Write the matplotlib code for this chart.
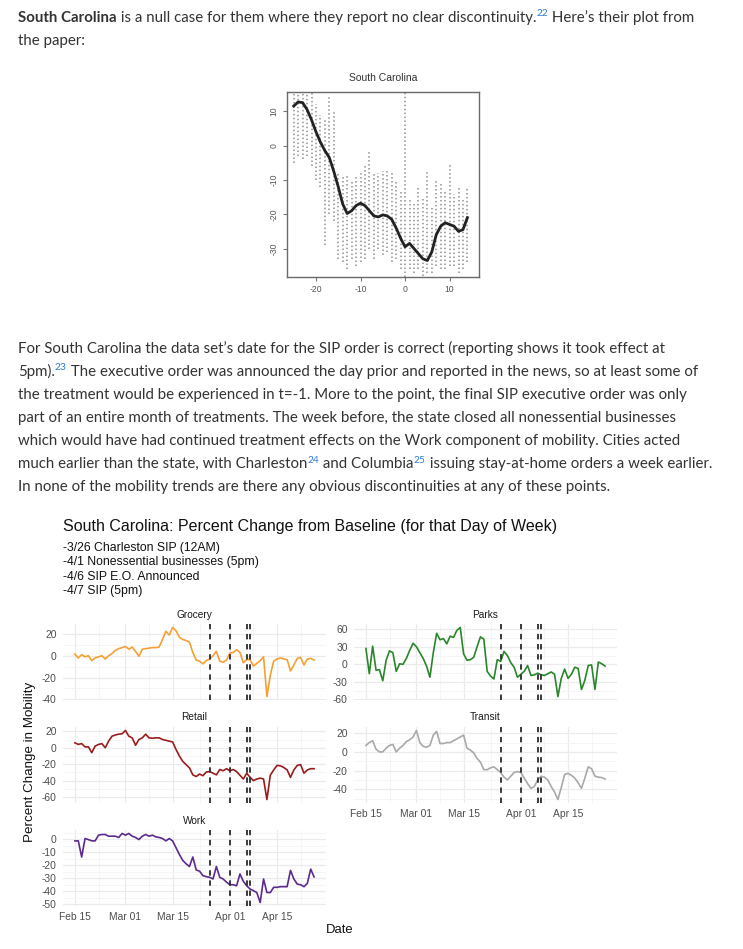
import matplotlib
matplotlib.use("Agg")
import matplotlib.pyplot as plt
import numpy as np

W, H = 743, 949

# ---- the paper's event-study scatter (days relative to SIP) ----
sc_days = list(range(-25, 15))
sc_fit = [11.5, 12.7, 12.5, 10.5, 7.5, 4.0, 1.0, -1.5, -3.5, -7.5,
          -12, -17, -19.8, -19, -17.5, -16.8, -17.5, -19, -20.5, -20.8,
          -20.2, -20.5, -21.5, -24, -27, -29.5, -28.5, -30, -31.5, -33,
          -33.5, -31, -26, -23.5, -22.5, -23, -23.5, -25, -24.5, -21]
sc_hi = [15.9, 15.9, 15.9, 15.9, 15.9, 12, 9, 8, 14, 10,
         -8, -9, -9, -10, -9, -8, -6, -2, -8, -8,
         -7.5, -7.5, -8, -10, -13, 15.9, -16, -17, -12, -15,
         -7, -18, -10, -11, -13, -5, -14, -12, -16, -12]
sc_lo = [-5, -3, -4, -3, -6, -10, -12, -29, -20, -22,
         -33, -34, -36, -33, -35, -34, -33, -30, -33, -30,
         -32, -31, -34, -33, -36, -38.3, -36, -37, -36, -38,
         -37, -37, -35, -36, -36, -35, -35, -37, -36, -34]

# ---- Google mobility, South Carolina, Feb 15 - Apr 26 2020 ----
dates = np.arange(np.datetime64("2020-02-15"), np.datetime64("2020-04-27"))
grocery = [1.5, -2, 1, -1, 0, -4.5, -2, -1, 0, -3,
           0, 2, 5, 6.5, 7.5, 8.5, 6, 8, 4, -0.5,
           6, 6.5, 7, 7.5, 7.5, 8, 15, 22.5, 19, 26,
           23, 17, 15, 14, 12.5, 3, -4, -5, -7.5, -4.5,
           -3, 0, 4, -5, -6, -4, 2.5, 3, 5.5, 3,
           -6.5, -3.5, -3.5, -9.5, -7, -4.5, -1, -37.5, -18, -5,
           -3, -2, -3, -3.5, -14, -8.5, -2.5, -1.5, -8.5, -3,
           -2.5, -4]
parks = [27, -16, 31, -10, -9, -28, 7, 23, 20, -12,
         1, 0, 10, 24, 36, 30, 20, 10, -3, -22,
         20, 53, 42, 44, 35, 48, 46, 58, 63, 18,
         7, 8, 12, 30, 47, 43, -12, -20, -25, 8,
         5, 22, 15, 3, -5, -22, -17, -12, -2, -19,
         -18, -15, -18, -19, -16, -13, -17, -55, -24, -8,
         -24, -17, -5, -7, -43, -27, -2, -1, -43, 4,
         1, -3]
retail = [6, 4, 5, 1, 1, -6, 2, 4, 5, 0,
          8, 14, 15.5, 16.5, 17, 21, 14, 12, 3, 10,
          12, 16.5, 12, 11.5, 12, 12, 10, 9, 8, 7,
          -2, -10, -16.5, -20.5, -24.5, -33, -35, -32, -34, -29.5,
          -29, -31, -33, -26.5, -28, -25.5, -28, -26.5, -29, -33.5,
          -38, -31, -36, -40, -38, -37, -38, -63, -33.5, -27,
          -21.5, -22, -24, -27, -36, -27, -21.5, -20.5, -31, -27,
          -25.5, -25.5]
transit = [7, 10, 12, 3, 0, 0, 4, 7, 8, 0,
           4, 7, 11, 13, 16, 23, 10, 6, 5, 7,
           18, 22, 9, 9, 10, 10, 12, 14, 16, 18,
           4, 2, -1, -7, -11, -19, -19, -17, -16, -19,
           -22, -27, -30, -26, -22, -21, -22, -28, -34, -39,
           -37, -30, -26, -27, -30, -37, -43, -51, -38, -24,
           -23, -25, -28, -33, -39, -28, -16, -18, -26, -27,
           -27.5, -29]
work = [-1.3, -1.3, -13.7, 0.5, -0.3, -1.3, -1.3, 3.1, 3.6, 3.6,
        2.3, 2.3, 2.3, 1.3, 4.4, 3.1, 4.4, 2.3, 1.3, -0.3,
        2.3, 3.6, 2.3, 3.1, 1.8, 1.3, 0.5, -1.3, 0.5, -1.3,
        -6.5, -11.7, -16.3, -18.9, -21, -13.7, -23.6, -24.6, -28, -28.8,
        -29.3, -30.6, -21, -29.3, -30.6, -33, -35, -35, -35.8, -26.7,
        -32.4, -35.8, -38.3, -39.6, -41, -48.7, -30.6, -41, -41, -37,
        -37, -36.5, -36.5, -36.5, -24, -30.6, -34.5, -35, -36.5, -34,
        -23, -29]
events = ["2020-03-26", "2020-04-01", "2020-04-06", "2020-04-07"]
xbreaks = ["2020-02-15", "2020-03-01", "2020-03-15", "2020-04-01", "2020-04-15"]
xlabels = ["Feb 15", "Mar 01", "Mar 15", "Apr 01", "Apr 15"]

fig = plt.figure(figsize=(W / 100, H / 100), dpi=100)
fig.patch.set_facecolor("white")
r = fig.canvas.get_renderer()


def box(x0, y0, x1, y1):
    return [x0 / W, 1 - y1 / H, (x1 - x0) / W, (y1 - y0) / H]


# ---------------- page text ----------------
BODY = ["Lato", "DejaVu Sans"]
INK = "#333333"
LINK = "#2f7fd4"
SIZE = 10.6


def adv(txt, **kw):
    a = fig.text(0, 0, "|" + txt + "|", **kw)
    b = fig.text(0, 0, "||", **kw)
    w = a.get_window_extent(r).width - b.get_window_extent(r).width
    a.remove(); b.remove()
    return w


def styles(kind, size):
    if kind == "sup":
        return dict(fontsize=size * 0.68, color=LINK, family=BODY)
    return dict(fontsize=size, color=INK, family=BODY,
                weight="bold" if kind == "b" else "normal")


def write(x, y, parts, right):
    # nudge the size toward where the line ends on the page (page font not installed)
    natural = sum(adv(t, **styles(k, SIZE)) for t, k in parts)
    size = SIZE * min(1.02, max(0.95, (right - x) / natural))
    for txt, kind in parts:
        kw = styles(kind, size)
        dy = 5.5 if kind == "sup" else 0
        fig.text(x / W, 1 - (y - dy) / H, txt, va="baseline", **kw)
        x += adv(txt, **kw)


write(18, 22, [("South Carolina", "b"),
               (" is a null case for them where they report no clear discontinuity.", ""),
               ("22", "sup"), (" Here’s their plot from", "")], 720)
write(18, 45, [("the paper:", "")], 88)

para = [
    [("For South Carolina the data set’s date for the SIP order is correct (reporting shows it took effect at", "")],
    [("5pm).", ""), ("23", "sup"),
     (" The executive order was announced the day prior and reported in the news, so at least some of", "")],
    [("the treatment would be experienced in t=-1. More to the point, the final SIP executive order was only", "")],
    [("part of an entire month of treatments. The week before, the state closed all nonessential businesses", "")],
    [("which would have had continued treatment effects on the Work component of mobility. Cities acted", "")],
    [("much earlier than the state, with Charleston", ""), ("24", "sup"), (" and Columbia", ""),
     ("25", "sup"), (" issuing stay-at-home orders a week earlier.", "")],
    [("In none of the mobility trends are there any obvious discontinuities at any of these points.", "")],
]
para_right = [716, 722, 703, 705, 710, 735, 687]
for i, parts in enumerate(para):
    write(18, 352.7 + 23.1 * i, parts, para_right[i])

# ---------------- the paper's plot ----------------
SANS = ["Liberation Sans", "DejaVu Sans"]
ax = fig.add_axes(box(287, 92, 479, 277))
ax.vlines(sc_days, sc_lo, sc_hi, colors="#8f8f8f", linestyles=(0, (1, 1.6)), lw=1.1)
ax.plot(sc_days, sc_fit, color="#222222", lw=2.0)
ax.set_xlim(-26.5, 16.6)
ax.set_ylim(-38.3, 15.6)
ax.set_xticks([-20, -10, 0, 10])
ax.set_yticks([10, 0, -10, -20, -30])
ax.set_xticklabels(["-20", "-10", "0", "10"], fontsize=6.2, color="#555555", family=SANS)
ax.set_yticklabels(["10", "0", "-10", "-20", "-30"], fontsize=6.2, color="#555555",
                   family=SANS, rotation=90, va="center")
ax.tick_params(length=3, color="#777777", pad=3)
for s in ax.spines.values():
    s.set_color("#6a6a6a"); s.set_linewidth(1.0)
fig.text(383 / W, 1 - 78 / H, "South Carolina", ha="center", va="center",
         fontsize=7.5, color="#333333", family=SANS)

# ---------------- mobility panels ----------------
DARK = "#4D4D4D"
breaks = np.array(xbreaks, dtype="datetime64[D]")
ext = np.concatenate([[breaks[0] - (breaks[1] - breaks[0])], breaks,
                      [breaks[-1] + (breaks[-1] - breaks[-2])]])
xminor = ext[:-1] + (ext[1:] - ext[:-1]) / 2


def panel(x0, top, series, color, yticks, title, show_x):
    ax = fig.add_axes(box(x0, top, x0 + 263, top + 76))
    ax.plot(dates, series, color=color, lw=1.2, zorder=3)
    for e in events:
        ax.axvline(np.datetime64(e), color="#2b2b2b", lw=1.3, ls=(0, (3, 2.6)), zorder=4)
    ax.set_yticks(yticks)
    ax.set_yticklabels([str(v) for v in yticks], fontsize=7.4, color=DARK, family=SANS)
    lo, hi = ax.get_ylim()
    step = yticks[1] - yticks[0]
    ym = np.arange(yticks[0] - step / 2, yticks[-1] + step, step)
    ax.set_yticks([v for v in ym if lo <= v <= hi], minor=True)
    ax.set_xticks(breaks)
    ax.set_xticks(xminor, minor=True)
    ax.set_xlim(dates[0] - np.timedelta64(85, "h"), dates[-1] + np.timedelta64(85, "h"))
    if show_x:
        ax.set_xticklabels(xlabels, fontsize=7.4, color=DARK, family=SANS)
    else:
        ax.set_xticklabels([])
    ax.grid(which="major", color="#EBEBEB", lw=0.9)
    ax.grid(which="minor", color="#F4F4F4", lw=0.6)
    ax.set_axisbelow(True)
    ax.tick_params(which="both", length=0, pad=4.5)
    for s in ax.spines.values():
        s.set_visible(False)
    fig.text((x0 + 131.5) / W, 1 - (top - 6.5) / H, title, ha="center", va="baseline",
             fontsize=7.3, color="#1A1A1A", family=SANS)


panel(63, 624, grocery, "#F5A033", [-40, -20, 0, 20], "Grocery", False)
panel(354, 624, parks, "#2A862A", [-60, -30, 0, 30, 60], "Parks", False)
panel(63, 727, retail, "#9C1C1C", [-60, -40, -20, 0, 20], "Retail", False)
panel(354, 727, transit, "#A9A9A9", [-40, -20, 0, 20], "Transit", True)
panel(63, 830, work, "#5B2A8E", [-50, -40, -30, -20, -10, 0], "Work", True)

fig.text(63 / W, 1 - 531 / H, "South Carolina: Percent Change from Baseline (for that Day of Week)",
         fontsize=11.5, color="#111111", family=SANS, va="baseline")
subs = ["-3/26 Charleston SIP (12AM)", "-4/1 Nonessential businesses (5pm)",
        "-4/6 SIP E.O. Announced", "-4/7 SIP (5pm)"]
for i, s in enumerate(subs):
    fig.text(63 / W, 1 - (550.5 + 14.5 * i) / H, s, fontsize=8.8, color="#111111",
             family=SANS, va="baseline")
fig.text(30 / W, 1 - 762 / H, "Percent Change in Mobility", rotation=90, ha="center",
         va="center", fontsize=9.6, color="#111111", family=SANS)
fig.text(340 / W, 1 - 930 / H, "Date", ha="center", va="center", fontsize=9.4,
         color="#111111", family=SANS)

fig.savefig("out.png", dpi=100, facecolor="white")
